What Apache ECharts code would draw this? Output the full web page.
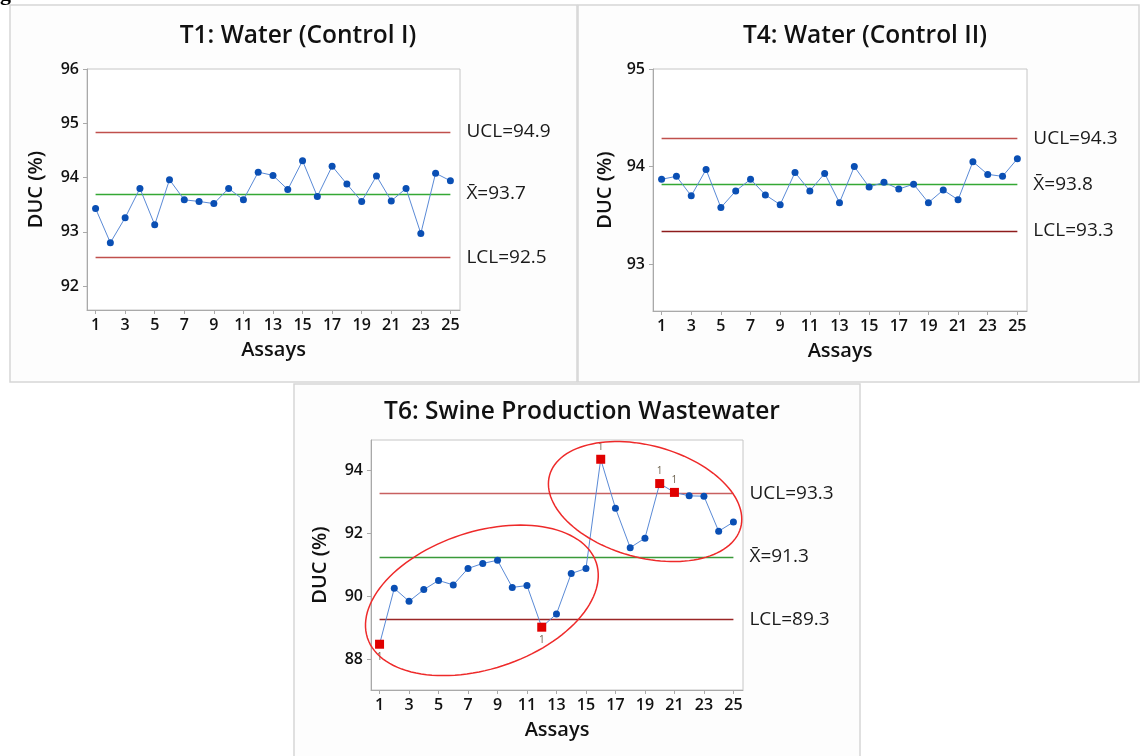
<!DOCTYPE html>
<html>
<head>
<meta charset="utf-8">
<style>
html,body{margin:0;padding:0;background:#fff;}
#chart{width:1140px;height:756px;}
</style>
<script src="https://cdn.jsdelivr.net/npm/echarts@6/dist/echarts.min.js"></script>
</head>
<body>
<div id="chart"></div>
<script>
// ---------- data ----------
const assays = [1,2,3,4,5,6,7,8,9,10,11,12,13,14,15,16,17,18,19,20,21,22,23,24,25];
const xTickLabels = [1,3,5,7,9,11,13,15,17,19,21,23,25];

const t1Titles = "T1: Water (Control I)";
const t1Values = [93.43,92.80,93.26,93.80,93.13,93.96,93.59,93.56,93.52,93.80,93.59,94.10,94.04,93.78,94.31,93.65,94.21,93.88,93.56,94.03,93.57,93.80,92.97,94.08,93.94];
const t1Limits = {ucl:94.84, mean:93.70, lcl:92.53};
const t1LimitText = {ucl:"UCL=94.9", mean:"X\u0304=93.7", lcl:"LCL=92.5"};
const t1YTicks = [92,93,94,95,96];

const t4Title = "T4: Water (Control II)";
const t4Values = [93.87,93.90,93.70,93.97,93.58,93.75,93.87,93.71,93.61,93.94,93.75,93.93,93.63,94.00,93.79,93.84,93.77,93.82,93.63,93.76,93.66,94.05,93.92,93.90,94.08];
const t4Limits = {ucl:94.29, mean:93.82, lcl:93.34};
const t4LimitText = {ucl:"UCL=94.3", mean:"X\u0304=93.8", lcl:"LCL=93.3"};
const t4YTicks = [93,94,95];

const t6Title = "T6: Swine Production Wastewater";
const t6Values = [88.48,90.25,89.84,90.21,90.50,90.36,90.88,91.04,91.14,90.28,90.34,89.02,89.44,90.72,90.88,94.34,92.79,91.54,91.84,93.57,93.29,93.18,93.17,92.06,92.35];
const t6Limits = {ucl:93.25, mean:91.25, lcl:89.27};
const t6LimitText = {ucl:"UCL=93.3", mean:"X\u0304=91.3", lcl:"LCL=89.3"};
const t6YTicks = [88,90,92,94];
const t6OutOfControl = [1,12,16,20,21];
const t6FlagBelow = [1,12];
const t6FlagText = "1";

// annotation ellipses (major-axis ends in data coordinates, minor/major ratio)
const t6Ellipses = [
  {from:[0.18,88.68], to:[15.70,91.06], ratio:0.57},
  {from:[12.53,93.83], to:[25.49,92.17], ratio:0.565}
];

// ---------- styling ----------
const FONT = "'Open Sans', 'Noto Sans', sans-serif";
const chart = echarts.init(document.getElementById('chart'), null, {renderer:'canvas'});

function xAxisCfg(gridIndex){
  return {
    type:'value', gridIndex, min:0.42, max:25.65,
    name:'Assays', nameLocation:'middle', nameGap:30,
    nameTextStyle:{fontFamily:FONT, fontSize:20, fontWeight:600, color:'#111'},
    axisLine:{show:true, lineStyle:{color:'#a9a9a9'}},
    axisTick:{show:true, length:4, lineStyle:{color:'#a9a9a9'}, customValues:xTickLabels},
    axisLabel:{fontFamily:FONT, fontSize:16, fontWeight:600, color:'#111', margin:7, customValues:xTickLabels},
    splitLine:{show:false}
  };
}
function yAxisCfg(gridIndex, min, max, ticks, gap){
  return {
    type:'value', gridIndex, min, max,
    name:'DUC (%)', nameLocation:'middle', nameGap:gap,
    nameTextStyle:{fontFamily:FONT, fontSize:20, fontWeight:600, color:'#111'},
    axisLine:{show:true, lineStyle:{color:'#a9a9a9'}},
    axisTick:{show:true, length:4, lineStyle:{color:'#a9a9a9'}, customValues:ticks},
    axisLabel:{fontFamily:FONT, fontSize:16, fontWeight:600, color:'#111', margin:8, customValues:ticks},
    splitLine:{show:false}
  };
}
function limitLines(lim, txt, colors){
  const mk = (v, t, c) => [
    {coord:[assays[0], v], lineStyle:{color:c, width:1.3, type:'solid'},
     label:{show:true, position:'end', formatter:t, distance:16, fontFamily:FONT, fontSize:19, color:'#1a1a1a'}},
    {coord:[assays[assays.length-1], v]}
  ];
  return {
    silent:true, symbol:['none','none'], animation:false,
    data:[mk(lim.ucl, txt.ucl, colors[0]), mk(lim.mean, txt.mean, colors[1]), mk(lim.lcl, txt.lcl, colors[2])]
  };
}
function pts(values, flags){
  return values.map((v,i)=>{
    const x = assays[i];
    if (flags && flags.indexOf(x) >= 0){
      const below = t6FlagBelow.indexOf(x) >= 0;
      return {value:[x,v], symbol:'rect', symbolSize:9,
        itemStyle:{color:'#e00000'},
        label:{show:true, formatter:t6FlagText, position: below ? 'bottom' : 'top', distance:3,
               fontFamily:FONT, fontSize:10, color:'#6e6450'}};
    }
    return {value:[x,v]};
  });
}
function lineSeries(idx, values, lim, txt, colors, flags){
  return {
    type:'line', xAxisIndex:idx, yAxisIndex:idx, data:pts(values, flags),
    symbol:'circle', symbolSize:7, showSymbol:true,
    lineStyle:{color:'#5a8ad6', width:1},
    itemStyle:{color:'#0a4fb4'},
    emphasis:{disabled:true}, animation:false, z:5,
    markLine:limitLines(lim, txt, colors)
  };
}

const panelStyle = {fill:'#fdfdfd', stroke:'#d6d6d6', lineWidth:1.5};
const titleStyle = {fontFamily:FONT, fontSize:24.5, fontWeight:600, color:'#111'};

const option = {
  backgroundColor:'#ffffff',
  animation:false,
  title:[
    {text:t1Titles, left:293, top:19, textAlign:'center', textStyle:titleStyle},
    {text:t4Title, left:860, top:19, textAlign:'center', textStyle:titleStyle},
    {text:t6Title, left:577, top:395, textAlign:'center', textStyle:titleStyle}
  ],
  graphic:[
    {type:'rect', z:-10, shape:{x:10, y:5, width:567, height:377}, style:panelStyle, silent:true},
    {type:'rect', z:-10, shape:{x:578, y:5, width:561, height:377}, style:panelStyle, silent:true},
    {type:'rect', z:-10, shape:{x:294, y:384, width:566, height:373}, style:panelStyle, silent:true},
    {type:'text', z:10, x:0, y:-17, style:{text:'g', fontFamily:"'Liberation Serif', serif", fontSize:22, fontWeight:'bold', fill:'#000'}, silent:true}
  ],
  grid:[
    {left:87, top:69, width:373, height:241, show:true, backgroundColor:'#ffffff', borderColor:'#c6c6c6', borderWidth:1},
    {left:653, top:69, width:374, height:242, show:true, backgroundColor:'#ffffff', borderColor:'#c6c6c6', borderWidth:1},
    {left:371, top:440, width:372, height:250, show:true, backgroundColor:'#ffffff', borderColor:'#c6c6c6', borderWidth:1}
  ],
  xAxis:[xAxisCfg(0), xAxisCfg(1), xAxisCfg(2)],
  yAxis:[
    yAxisCfg(0, 91.56, 96, t1YTicks, 41),
    yAxisCfg(1, 92.52, 95, t4YTicks, 38),
    yAxisCfg(2, 87.03, 94.95, t6YTicks, 41)
  ],
  series:[
    lineSeries(0, t1Values, t1Limits, t1LimitText, ['#c0504d','#34a834','#c0504d']),
    lineSeries(1, t4Values, t4Limits, t4LimitText, ['#c0504d','#34a834','#8e1c1c']),
    lineSeries(2, t6Values, t6Limits, t6LimitText, ['#c86060','#3a9a3a','#9a2626'], t6OutOfControl),
    {
      type:'custom', xAxisIndex:2, yAxisIndex:2, clip:false, silent:true, z:6,
      data:t6Ellipses.map(e=>[e.from[0], e.from[1], e.to[0], e.to[1], e.ratio]),
      renderItem:function(params, api){
        const p1 = api.coord([api.value(0), api.value(1)]);
        const p2 = api.coord([api.value(2), api.value(3)]);
        const cx = (p1[0]+p2[0])/2, cy = (p1[1]+p2[1])/2;
        const dx = p2[0]-p1[0], dy = p2[1]-p1[1];
        const a = Math.sqrt(dx*dx+dy*dy)/2;
        const b = a*api.value(4);
        const th = Math.atan2(dy, dx);
        const c = Math.cos(th), s = Math.sin(th);
        const points = [];
        for (let k=0;k<120;k++){
          const t = k/120*Math.PI*2;
          const ex = a*Math.cos(t), ey = b*Math.sin(t);
          points.push([cx + ex*c - ey*s, cy + ex*s + ey*c]);
        }
        return {type:'polygon', shape:{points}, style:{fill:'none', stroke:'#ee2a2a', lineWidth:1.5}};
      }
    }
  ]
};
chart.setOption(option);
</script>
</body>
</html>
